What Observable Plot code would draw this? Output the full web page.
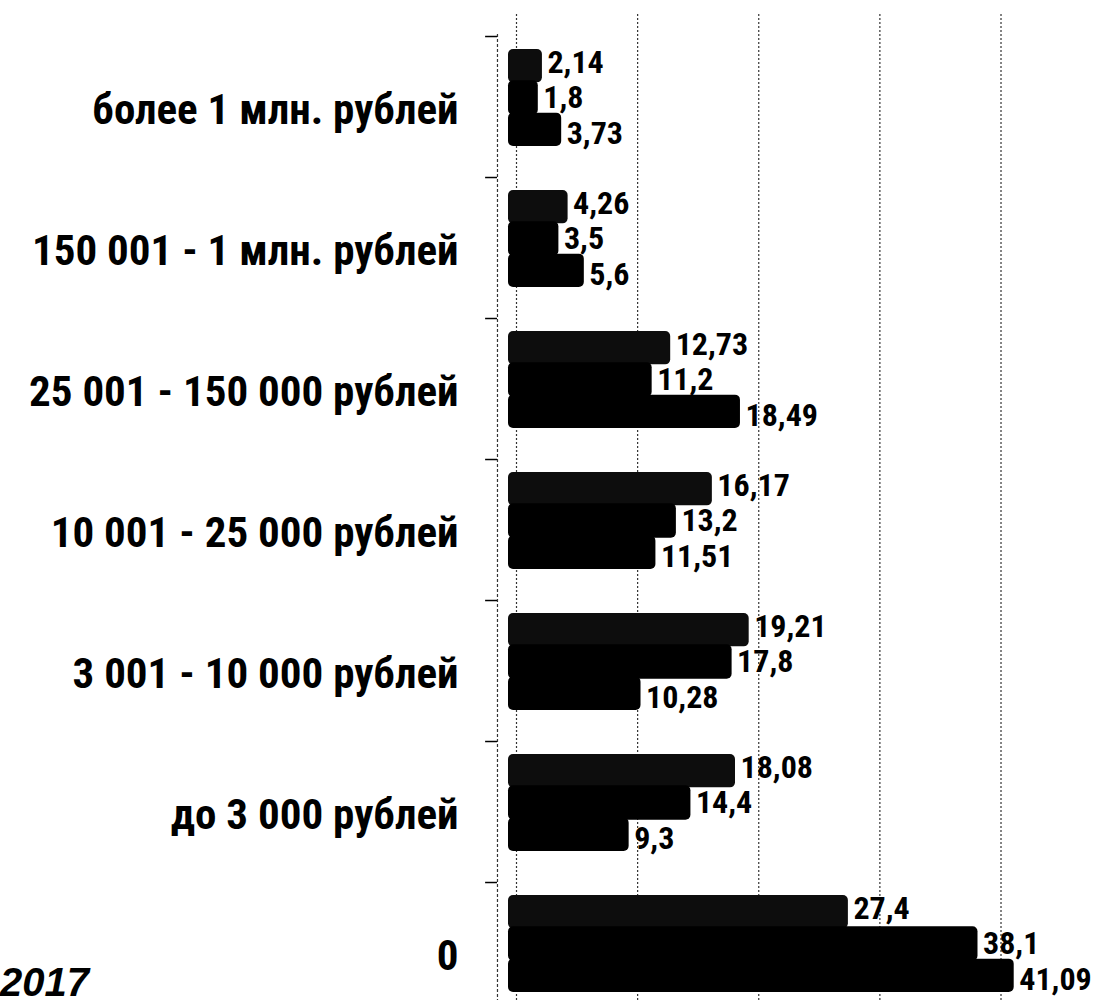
<!DOCTYPE html>
<html>
<head>
<meta charset="utf-8">
<script src="https://cdn.jsdelivr.net/npm/d3@7"></script>
<script src="https://cdn.jsdelivr.net/npm/@observablehq/plot@0.6"></script>
<style>
  html, body { margin: 0; padding: 0; background: #fff; }
  #wrap { position: relative; width: 1118px; height: 1006px; overflow: hidden; }
  #year { position: absolute; left: 0px; top: 962px; font-family: "Liberation Sans", Arial, sans-serif;
          font-weight: bold; font-style: italic; font-size: 40px; line-height: 1; color: #000; }
</style>
</head>
<body>
<div id="wrap"></div>
<script>
// Categories, top to bottom
const categories = [
  "более 1 млн. рублей",
  "150 001 - 1 млн. рублей",
  "25 001 - 150 000 рублей",
  "10 001 - 25 000 рублей",
  "3 001 - 10 000 рублей",
  "до 3 000 рублей",
  "0"
];
// Three series (top, middle, bottom bar of each group)
const seriesTop    = [2.14, 4.26, 12.73, 16.17, 19.21, 18.08, 27.4];
const seriesMiddle = [1.8, 3.5, 11.2, 13.2, 17.8, 14.4, 38.1];
const seriesBottom = [3.73, 5.6, 18.49, 11.51, 10.28, 9.3, 41.09];
const gridTicks = [0, 10, 20, 30, 40];
const captionText = "2017";

const series = [seriesTop, seriesMiddle, seriesBottom];
const rows = series.map(vals => categories.map((c, i) => ({category: c, value: vals[i]})));

const fmt = v => String(v).replace(".", ",");

const W = 1118, H = 1006;
const marginTop = 14, marginBottom = 6, marginLeft = 516, marginRight = 0;
const padIn = 0.313, padOut = 0.149, align = 0.81;
const step = (H - marginTop - marginBottom) / (categories.length - padIn + 2 * padOut);
const bw = step * (1 - padIn);
const h = bw / 3;
const labelShift = [-3, 0, 3];

const font = '"Liberation Sans Narrow", "Arial Narrow", "Roboto Condensed", "DejaVu Sans Condensed", sans-serif';

const marks = [
  Plot.ruleX(gridTicks, {x: d => d, stroke: "#333", strokeWidth: 1.2, strokeDasharray: "2,2"}),
  Plot.ruleX([-1.57], {x: d => d, stroke: "#333", strokeWidth: 1.2, strokeDasharray: "3,2", insetTop: 20}),
  Plot.ruleY(categories, {y: d => d, x1: -2.55, x2: -1.57, stroke: "#000", strokeWidth: 1.5, dy: -(bw / 2 + 13)}),
];

series.forEach((s, i) => {
  marks.push(Plot.barX(rows[i], {
    y: "category", x: "value", fill: i === 0 ? "#0d0d0d" : "#000",
    insetTop: i * h - (i > 0 ? 1 : 0), insetBottom: (2 - i) * h - (i < 2 ? 1 : 0), insetLeft: -8, rx: 5
  }));
});

series.forEach((s, i) => {
  marks.push(Plot.text(rows[i], {
    y: "category", x: "value", text: d => fmt(d.value),
    dy: (i - 1) * h + labelShift[i], dx: 5, textAnchor: "start",
    fontSize: 32, fontWeight: "bold", fill: "#000"
  }));
});

marks.push(Plot.text(categories, {
  y: d => d, text: d => d, frameAnchor: "left", dx: -58, dy: 12, textAnchor: "end",
  fontSize: 43, fontWeight: "bold", fill: "#000"
}));

const chart = Plot.plot({
  width: W, height: H,
  marginTop, marginBottom, marginLeft, marginRight,
  style: {fontFamily: font, background: "#fff", color: "#000", overflow: "visible"},
  x: {domain: [0, 49.7], axis: null},
  y: {domain: categories, paddingInner: padIn, paddingOuter: padOut, align, axis: null},
  marks
});

const wrap = document.getElementById("wrap");
wrap.appendChild(chart);
const cap = document.createElement("div");
cap.id = "year";
cap.textContent = captionText;
wrap.appendChild(cap);
</script>
</body>
</html>
